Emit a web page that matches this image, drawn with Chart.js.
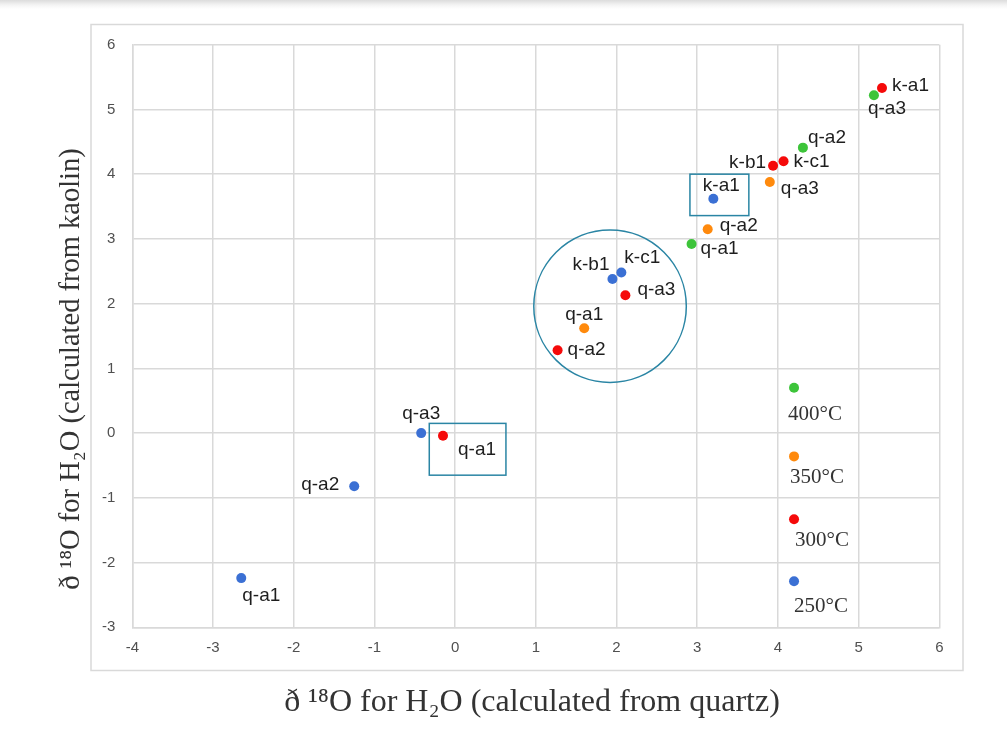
<!DOCTYPE html>
<html>
<head>
<meta charset="utf-8">
<script src="https://cdn.jsdelivr.net/npm/chart.js@4/dist/chart.umd.min.js"></script>
<style>
  html, body { margin: 0; padding: 0; background: #ffffff; }
  body { width: 1007px; height: 733px; overflow: hidden; position: relative;
         background: linear-gradient(to bottom, #dcdcdc 0px, #f4f4f4 5px, #ffffff 9px); }
  #wrap { position: absolute; left: 0; top: 0; }
</style>
</head>
<body>
<div id="wrap"><canvas id="c" width="1007" height="733"></canvas></div>
<script>
// Sample names per series
const t250Names = ['q-a1', 'q-a2', 'q-a3', 'k-b1', 'k-c1', 'k-a1'];
const t300Names = ['q-a1', 'q-a2', 'q-a3', 'k-b1', 'k-c1', 'k-a1'];
const t350Names = ['q-a1', 'q-a2', 'q-a3'];
const t400Names = ['q-a1', 'q-a2', 'q-a3'];

// δ18O of H2O: x from quartz, y from kaolin
const t250X = [-2.65, -1.25, -0.42, 1.95, 2.06, 3.20];
const t250Y = [-2.24, -0.82, 0.00, 2.38, 2.48, 3.62];
const t300X = [-0.15, 1.27, 2.11, 3.94, 4.07, 5.29];
const t300Y = [-0.04, 1.28, 2.13, 4.13, 4.20, 5.33];
const t350X = [1.60, 3.13, 3.90];
const t350Y = [1.62, 3.15, 3.88];
const t400X = [2.93, 4.31, 5.19];
const t400Y = [2.92, 4.41, 5.22];

// Temperature key
const keyText = ['400°C', '350°C', '300°C', '250°C'];
const keyX = [4.20, 4.20, 4.20, 4.20];
const keyY = [0.70, -0.36, -1.33, -2.29];

// Axis ticks
const xTicks = [-4, -3, -2, -1, 0, 1, 2, 3, 4, 5, 6];
const yTicks = [-3, -2, -1, 0, 1, 2, 3, 4, 5, 6];

// Highlight shapes (data units)
const groupCircle = { cx: 1.92, cy: 1.96, r: 0.945 };
const boxKa1 = { x0: 2.91, x1: 3.64, y0: 3.36, y1: 4.00 };
const boxQa1 = { x0: -0.32, x1: 0.63, y0: -0.65, y1: 0.15 };

const COLORS = { t250: '#3b70d4', t300: '#f50a0a', t350: '#ff8a0d', t400: '#3dc43a' };
const keyColors = [COLORS.t400, COLORS.t350, COLORS.t300, COLORS.t250];
const SHAPE_COLOR = '#2a85a4';

// Label placement: [align, dx, dy] in pixels
const place = {
  t250: [['left', 1, 18], ['right', -15, -1], ['center', 0, -19], ['right', -3, -14], ['left', 3, -15], ['center', 8, -13]],
  t300: [['left', 15, 14], ['left', 10, 0], ['left', 12, -5], ['right', -7, -3], ['left', 10, 1], ['left', 10, -2]],
  t350: [['center', 0, -13], ['left', 12, -3], ['left', 11, 7]],
  t400: [['left', 9, 5], ['left', 5, -10], ['left', -6, 14]],
  key: [['left', -6, 27], ['left', -4, 21], ['left', 1, 21], ['left', 0, 25]]
};

const pts = (xs, ys) => xs.map((x, i) => ({ x: x, y: ys[i] }));

const LABEL_FONT = '19px "Liberation Sans", Arial, sans-serif';
const KEY_FONT = '21px "Liberation Serif", "DejaVu Serif", serif';
const XTITLE_FONT = '32px "Liberation Serif", "DejaVu Serif", serif';
const YTITLE_FONT = '28.5px "Liberation Serif", "DejaVu Serif", serif';

const overlay = {
  id: 'overlay',
  beforeDraw(chart) {
    const ctx = chart.ctx;
    ctx.save();
    ctx.strokeStyle = '#d9d9d9';
    ctx.lineWidth = 1.5;
    ctx.strokeRect(91, 24.5, 872, 646);
    ctx.restore();
  },
  afterDatasetsDraw(chart) {
    const ctx = chart.ctx;
    const xs = chart.scales.x, ys = chart.scales.y;
    ctx.save();
    // highlight shapes
    ctx.strokeStyle = SHAPE_COLOR;
    ctx.lineWidth = 1.5;
    const ccx = xs.getPixelForValue(groupCircle.cx);
    const ccy = ys.getPixelForValue(groupCircle.cy);
    const rr = xs.getPixelForValue(groupCircle.cx + groupCircle.r) - ccx;
    ctx.beginPath();
    ctx.arc(ccx, ccy, rr, 0, Math.PI * 2);
    ctx.stroke();
    [boxKa1, boxQa1].forEach(b => {
      const x0 = xs.getPixelForValue(b.x0), x1 = xs.getPixelForValue(b.x1);
      const y0 = ys.getPixelForValue(b.y1), y1 = ys.getPixelForValue(b.y0);
      ctx.strokeRect(x0, y0, x1 - x0, y1 - y0);
    });

    // point labels
    ctx.textBaseline = 'middle';
    chart.data.datasets.forEach((ds, di) => {
      const meta = chart.getDatasetMeta(di);
      const pl = place[ds.key];
      ctx.font = ds.key === 'key' ? KEY_FONT : LABEL_FONT;
      ctx.fillStyle = ds.key === 'key' ? '#333333' : '#1e1e1e';
      meta.data.forEach((el, i) => {
        const p = pl[i];
        ctx.textAlign = p[0];
        ctx.fillText(ds.names[i], el.x + p[1], el.y + p[2]);
      });
    });

    // axis titles
    ctx.fillStyle = '#333333';
    ctx.textAlign = 'center';
    ctx.font = XTITLE_FONT;
    ctx.fillText('ð ¹⁸O for H₂O (calculated from quartz)', 532, 703);
    ctx.font = YTITLE_FONT;
    ctx.translate(72, 369);
    ctx.rotate(-Math.PI / 2);
    ctx.fillText('ð ¹⁸O for H₂O (calculated from kaolin)', 0, 0);
    ctx.restore();
  }
};

const mkSet = (key, names, xs, ys, color) => ({
  key: key, names: names, data: pts(xs, ys),
  backgroundColor: color, borderWidth: 0, pointRadius: 5, pointHoverRadius: 5
});

const tickFont = { family: '"Liberation Sans", Arial, sans-serif', size: 15 };

new Chart(document.getElementById('c'), {
  type: 'scatter',
  data: {
    datasets: [
      mkSet('t250', t250Names, t250X, t250Y, COLORS.t250),
      mkSet('t300', t300Names, t300X, t300Y, COLORS.t300),
      mkSet('t350', t350Names, t350X, t350Y, COLORS.t350),
      mkSet('t400', t400Names, t400X, t400Y, COLORS.t400),
      mkSet('key', keyText, keyX, keyY, keyColors)
    ]
  },
  options: {
    responsive: false,
    devicePixelRatio: 1,
    animation: false,
    events: [],
    layout: { padding: { left: 0, top: 44.7, right: 67.7, bottom: 0 } },
    plugins: { legend: { display: false }, tooltip: { enabled: false } },
    scales: {
      x: {
        type: 'linear', min: -4, max: 6,
        afterBuildTicks: s => { s.ticks = xTicks.map(v => ({ value: v })); },
        afterFit: s => { s.height = 733 - 627.3; },
        grid: { color: '#d9d9d9', lineWidth: 1.5, drawTicks: false },
        border: { color: '#d9d9d9', width: 1.5 },
        ticks: { padding: 12, color: '#505050', font: tickFont }
      },
      y: {
        type: 'linear', min: -3, max: 6,
        afterBuildTicks: s => { s.ticks = yTicks.map(v => ({ value: v })); },
        afterFit: s => { s.width = 132.3; },
        grid: { color: '#d9d9d9', lineWidth: 1.5, drawTicks: false },
        border: { color: '#d9d9d9', width: 1.5 },
        ticks: { padding: 17, color: '#505050', font: tickFont }
      }
    }
  },
  plugins: [overlay]
});
</script>
</body>
</html>
